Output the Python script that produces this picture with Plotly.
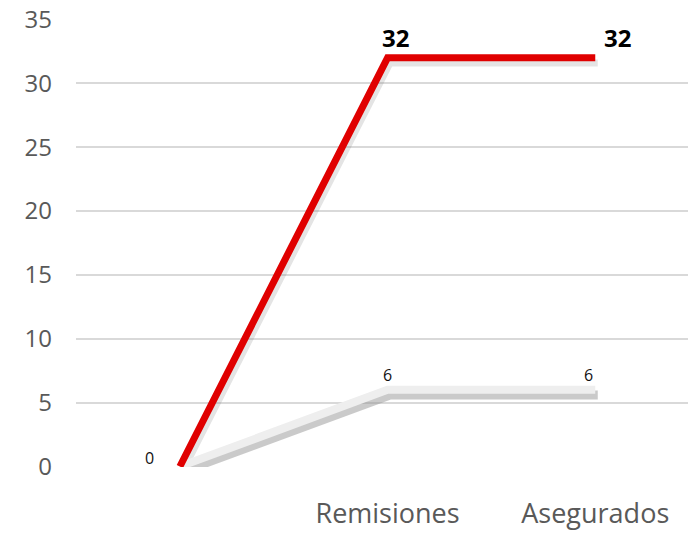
import plotly.graph_objects as go

categories = ["", "Remisiones", "Asegurados"]
red_values = [0, 32, 32]
gray_values = [0, 6, 6]
red_labels = ["", "32", "32"]
gray_labels = ["0", "6", "6"]
y_ticks = [0, 5, 10, 15, 20, 25, 30, 35]

x = list(range(len(categories)))
FONT = "'Open Sans', sans-serif"

fig = go.Figure()

# shadows on the base axes (range shifted a few pixels down/right, no ticks/grid)
fig.add_trace(go.Scatter(x=x, y=gray_values, mode="lines",
                         line=dict(color="rgba(150,150,150,0.5)", width=9),
                         hoverinfo="skip", showlegend=False))
fig.add_trace(go.Scatter(x=x, y=red_values, mode="lines",
                         line=dict(color="rgba(120,120,120,0.2)", width=7),
                         hoverinfo="skip", showlegend=False))

# main series on the overlay axes, which carry ticks and grid
fig.add_trace(go.Scatter(
    x=x, y=gray_values, mode="lines", xaxis="x2", yaxis="y2",
    line=dict(color="#EEEEEE", width=8),
    showlegend=False))
fig.add_trace(go.Scatter(
    x=x, y=red_values, mode="lines", xaxis="x2", yaxis="y2",
    line=dict(color="#E00000", width=7),
    showlegend=False))

# data labels
red_shift = [(0, 0), (8, 20), (22, 20)]
gray_shift = [(-30, 8), (0, 15), (-7, 15)]
for xi, yi, t, (dx, dy) in zip(x, red_values, red_labels, red_shift):
    if t:
        fig.add_annotation(x=xi, y=yi, xref="x2", yref="y2", text=t, showarrow=False,
                           xshift=dx, yshift=dy,
                           font=dict(family=FONT, size=24, color="#000000", weight="bold"))
for xi, yi, t, (dx, dy) in zip(x, gray_values, gray_labels, gray_shift):
    if t:
        fig.add_annotation(x=xi, y=yi, xref="x2", yref="y2", text=t, showarrow=False,
                           xshift=dx, yshift=dy,
                           font=dict(family=FONT, size=16, color="#111111"))

xr = [-0.5, 2.485]
yr = [-0.04, 35.04]
fig.update_layout(
    width=688, height=527,
    margin=dict(l=68, r=0, t=11, b=68),
    paper_bgcolor="white", plot_bgcolor="white",
    xaxis=dict(range=[xr[0] - 0.012, xr[1] - 0.012], visible=False),
    yaxis=dict(range=[yr[0] + 0.4, yr[1] + 0.4], visible=False),
    xaxis2=dict(range=xr, overlaying="x", side="bottom",
                tickvals=x, ticktext=categories, showgrid=False, zeroline=False,
                showline=False, ticks="",
                tickfont=dict(family=FONT, size=27, color="#595959"),
                ticklabelstandoff=28),
    yaxis2=dict(range=yr, overlaying="y", side="left", tickvals=y_ticks, showgrid=True,
                gridcolor="#D9D9D9", gridwidth=2, automargin=False,
                zeroline=False, showline=False, ticks="", ticklabeloverflow="allow",
                tickfont=dict(family=FONT, size=24, color="#595959"), ticklabelstandoff=23),
    font=dict(family=FONT),
)

fig.write_html("out.html")
